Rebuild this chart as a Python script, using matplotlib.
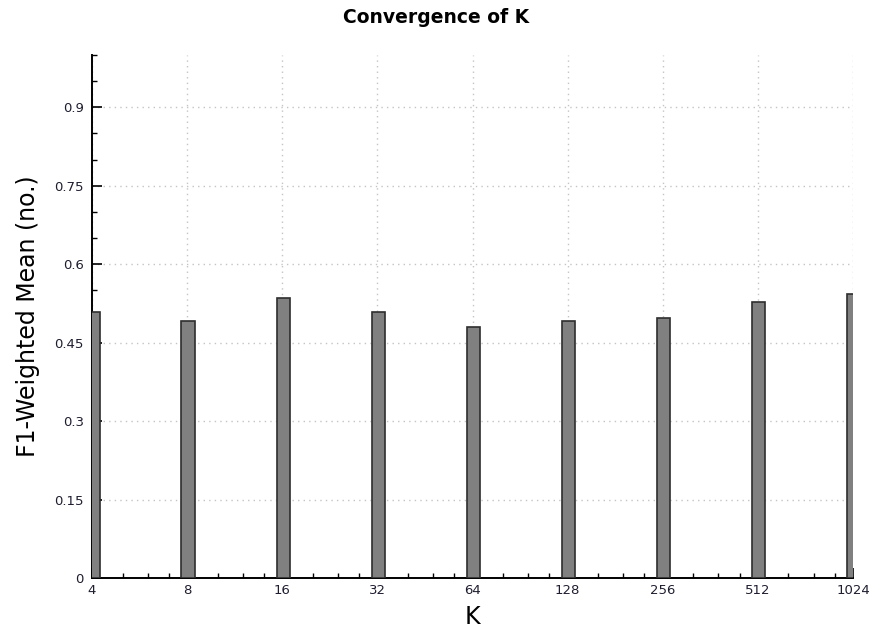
import matplotlib
matplotlib.use("Agg")
import matplotlib.pyplot as plt
from matplotlib.ticker import FixedLocator, NullFormatter, MultipleLocator, FuncFormatter
import numpy as np

k_values = [4, 8, 16, 32, 64, 128, 256, 512, 1024]
k_labels = ["4", "8", "16", "32", "64", "128", "256", "512", "1024"]
f1_weighted = [0.508, 0.492, 0.536, 0.508, 0.480, 0.491, 0.498, 0.527, 0.543]
y_ticks = [0, 0.15, 0.3, 0.45, 0.6, 0.75, 0.9]
y_tick_labels = ["0", "0.15", "0.3", "0.45", "0.6", "0.75", "0.9"]

fig = plt.figure(figsize=(8.73, 6.37), dpi=100)
ax = fig.add_axes([92 / 873, 59 / 637, 761 / 873, 523 / 637])

ax.set_xscale("log", base=2)
k = np.array(k_values, dtype=float)
# constant on-screen width on the log axis: scale bar edges with K
left = k * 2 ** -0.06
right = k * 2 ** 0.08
ax.bar(left, f1_weighted, width=right - left, align="edge",
       color="#808080", edgecolor="#2e2e2e", linewidth=1.2, zorder=3)

ax.set_xlim(4, 1024)
ax.set_ylim(0, 1.0)

ax.xaxis.set_major_locator(FixedLocator(k_values))
ax.xaxis.set_major_formatter(FuncFormatter(
    lambda v, p: k_labels[k_values.index(int(round(v)))] if int(round(v)) in k_values else ""))
minor_x = [kv * m for kv in k_values[:-1] for m in (1.25, 1.5, 1.75)]
ax.xaxis.set_minor_locator(FixedLocator(minor_x))
ax.xaxis.set_minor_formatter(NullFormatter())

ax.set_yticks(y_ticks)
ax.set_yticklabels(y_tick_labels)
ax.yaxis.set_minor_locator(MultipleLocator(0.05))

ax.tick_params(axis="both", which="major", direction="in", length=7, width=1.2,
               labelsize=9.5, labelcolor="#1e1e30", color="black")
ax.tick_params(axis="both", which="minor", direction="in", length=3.5, width=1.0, color="black")
ax.tick_params(axis="x", which="major", pad=4)
ax.tick_params(axis="y", which="major", pad=6)

ax.grid(True, which="major", color="#c4c4c4", linestyle=(0, (1, 3)), linewidth=1.0, zorder=0)
ax.set_axisbelow(True)

for side in ("top", "right"):
    ax.spines[side].set_visible(False)
for side in ("left", "bottom"):
    ax.spines[side].set_linewidth(1.4)
    ax.spines[side].set_color("black")

ax.set_xlabel("K", fontsize=17, labelpad=6)
ax.set_ylabel("F1-Weighted Mean (no.)", fontsize=17, labelpad=10)
fig.suptitle("Convergence of K", fontsize=13.5, fontweight="bold", y=0.988)

fig.savefig("out.png", dpi=100)
